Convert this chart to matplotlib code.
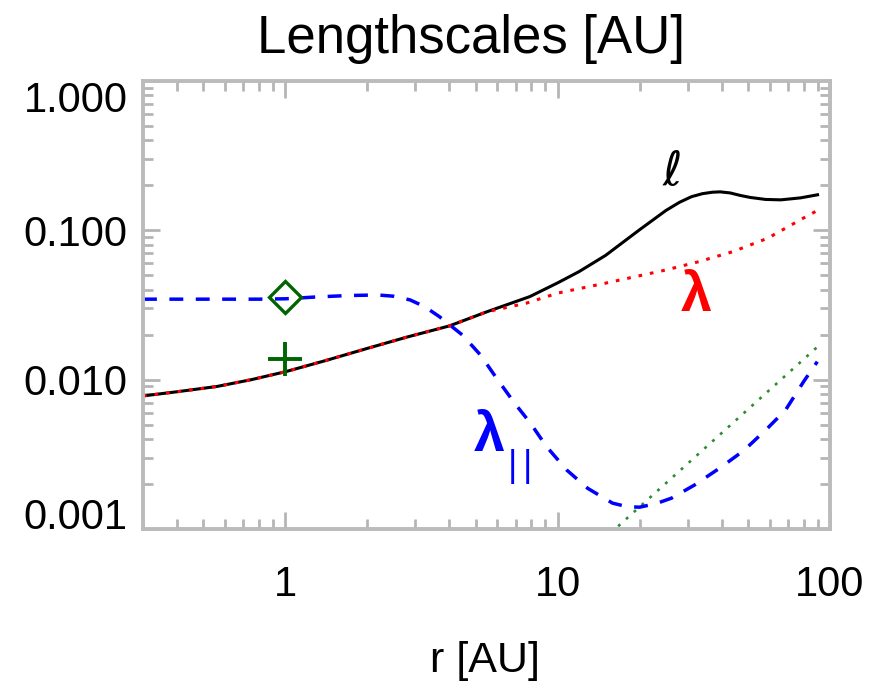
import matplotlib
matplotlib.use('Agg')
import matplotlib.pyplot as plt
from matplotlib.ticker import FixedLocator, LogLocator, NullFormatter

plt.rcParams['font.family'] = ['Liberation Sans', 'DejaVu Sans']

# ---- data ----
r_ell = [0.3, 0.4, 0.56, 0.75, 1.0, 1.4, 2.0, 2.8, 4.0, 5.5, 7.9, 10, 12, 15, 20, 25,
         28, 31, 34, 37, 39.5, 43, 47, 51, 58, 66, 78, 90]
ell = [0.00778, 0.0083, 0.0090, 0.0100, 0.0113, 0.0134, 0.0162, 0.0193, 0.0229, 0.0285,
       0.036, 0.0445, 0.053, 0.068, 0.101, 0.136, 0.154, 0.168, 0.176, 0.180, 0.181,
       0.178, 0.171, 0.166, 0.161, 0.160, 0.165, 0.173]

r_lam = [0.3, 0.4, 0.56, 0.75, 1.0, 1.4, 2.0, 2.8, 4.0, 5.5, 7.66, 10, 15, 25, 33, 44,
         59, 64, 80, 90]
lam = [0.00778, 0.0083, 0.0090, 0.0100, 0.0113, 0.0134, 0.0162, 0.0193, 0.0229, 0.0285,
       0.0325, 0.038, 0.0443, 0.0543, 0.0617, 0.072, 0.0885, 0.0962, 0.121, 0.136]

r_par = [0.3, 0.5, 0.8, 1.0, 1.3, 1.7, 2.19, 2.5, 2.87, 3.25, 3.68, 4.47, 5.21, 5.97,
         6.95, 7.95, 9.1, 10.8, 12.9, 15.9, 18.0, 20.0, 23.0, 26.2, 31.8, 40.0, 48.5,
         58.9, 68.7, 80.0, 89.8]
lam_par = [0.0346, 0.0346, 0.0346, 0.0348, 0.0358, 0.0366, 0.0369, 0.0362, 0.0342,
           0.0308, 0.0264, 0.0199, 0.0146, 0.0102, 0.00695, 0.0051, 0.00356, 0.00248,
           0.00187, 0.00149, 0.00141, 0.00140, 0.00148, 0.00161, 0.00197, 0.00261,
           0.00338, 0.00472, 0.00627, 0.0097, 0.0132]

r_green = [15.6, 91.6]
green = [0.000936, 0.0171]

r_diamond = [1.0]
y_diamond = [0.0356]
r_plus = [1.0]
y_plus = [0.0137]

xticks = [1, 10, 100]
xticklabels = ['1', '10', '100']
yticks = [0.001, 0.01, 0.1, 1.0]
yticklabels = ['0.001', '0.010', '0.100', '1.000']

# ---- figure ----
W, H = 881, 681
fig = plt.figure(figsize=(W / 100, H / 100), dpi=100)
ax = fig.add_axes([143 / W, 1 - 529 / H, 687 / W, 448 / H])
ax.set_xscale('log')
ax.set_yscale('log')

ax.plot(r_ell, ell, color='black', lw=2.2, solid_joinstyle='round')
ax.plot(r_lam, lam, color='red', lw=2.2, ls=(0, (1.2, 2.6)))
ax.plot(r_green, green, color='#2e8b2e', lw=1.9, ls=(0, (1.1, 2.9)))
ax.plot(r_par, lam_par, color='blue', lw=2.5, ls=(0, (4.0, 3.6)))
ax.plot(r_diamond, y_diamond, ls='none', marker='D', ms=16, mfc='none',
        mec='#006400', mew=2.4)
ax.plot(r_plus, y_plus, ls='none', marker='+', ms=24, mec='#006400', mew=2.8)

ax.set_xlim(0.3, 100)
ax.set_ylim(0.001, 1.0)

ax.xaxis.set_major_locator(FixedLocator(xticks))
ax.set_xticklabels(xticklabels)
ax.xaxis.set_minor_locator(LogLocator(base=10, subs=range(2, 10)))
ax.xaxis.set_minor_formatter(NullFormatter())
ax.yaxis.set_major_locator(FixedLocator(yticks))
ax.set_yticklabels(yticklabels)
ax.yaxis.set_minor_locator(LogLocator(base=10, subs=range(2, 10)))
ax.yaxis.set_minor_formatter(NullFormatter())

tcol = '#b5b5b5'
ax.tick_params(which='both', direction='in', top=True, right=True, color=tcol, width=2)
ax.tick_params(which='major', length=12, labelsize=30)
ax.tick_params(which='minor', length=7)
ax.tick_params(axis='x', which='major', pad=26)
ax.tick_params(axis='y', which='major', pad=11)
for s in ax.spines.values():
    s.set_color('#bbbbbb')
    s.set_linewidth(2.8)

ylabs = ax.get_yticklabels()
ylabs[0].set_va('baseline')
ylabs[-1].set_va('top')

def ftext(x, y, s, **kw):
    fig.text(x / W, 1 - y / H, s, **kw)

ftext(471, 53, 'Lengthscales [AU]', ha='center', va='baseline', fontsize=38)
ftext(485, 672, 'r [AU]', ha='center', va='baseline', fontsize=31)

ftext(672, 173, '\u2113', ha='center', va='center', fontsize=34, color='black',
      family=['DejaVu Sans'], style='italic')
ftext(696, 297, '\u03bb', ha='center', va='center', fontsize=40, color='red',
      fontweight='bold')
ftext(489, 437, '\u03bb', ha='center', va='center', fontsize=40, color='blue',
      fontweight='bold')
ftext(512, 467, '|', ha='center', va='center', fontsize=26, color='blue')
ftext(527, 467, '|', ha='center', va='center', fontsize=26, color='blue')

fig.savefig('out.png', dpi=100)
